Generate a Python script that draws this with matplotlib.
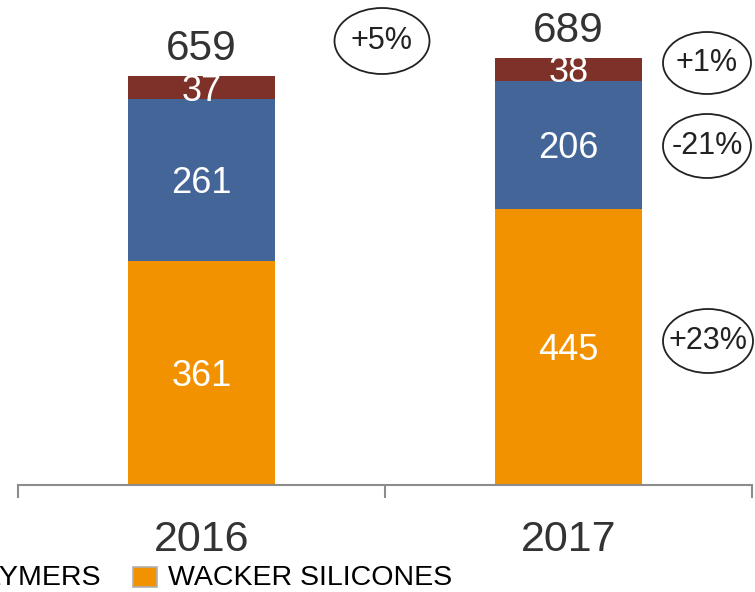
import matplotlib
matplotlib.use("Agg")
import matplotlib.pyplot as plt
from matplotlib.patches import Ellipse, Rectangle

plt.rcParams['font.family'] = ['Liberation Sans', 'DejaVu Sans']

years = ["2016", "2017"]
silicones = [361, 445]
polymers = [261, 206]
other = [37, 38]
totals = [659, 689]
changes = ["+5%", "+1%", "-21%", "+23%"]
legend_labels = ["WACKER POLYMERS", "WACKER SILICONES"]

c_orange = "#F39200"
c_blue = "#446598"
c_red = "#7D3129"
c_text = "#333333"

W, H = 755, 592
fig = plt.figure(figsize=(W / 100, H / 100), dpi=100)
ax = fig.add_axes([18 / W, 107 / H, (752 - 18) / W, 485 / H])
ax.set_xlim(-0.5, 1.5)
ax.set_ylim(0, 782)

x = list(range(len(years)))
bw = 0.4
ax.bar(x, silicones, bw, color=c_orange)
ax.bar(x, polymers, bw, bottom=silicones, color=c_blue)
bottom3 = [a + b for a, b in zip(silicones, polymers)]
ax.bar(x, other, bw, bottom=bottom3, color=c_red)

def inner(i, y, val):
    ax.annotate(str(val), (i, y), xytext=(0, -2.5), textcoords='offset points',
                ha='center', va='center', color='white', fontsize=26)

for i in x:
    inner(i, silicones[i] / 2, silicones[i])
    inner(i, silicones[i] + polymers[i] / 2, polymers[i])
    inner(i, bottom3[i] + other[i] / 2, other[i])
    top = bottom3[i] + other[i]
    ax.annotate(str(totals[i]), (i, top), xytext=(0, 19.5), textcoords='offset points',
                ha='center', va='center', color=c_text, fontsize=30.5)

for s in ['left', 'right', 'top']:
    ax.spines[s].set_visible(False)
ax.spines['bottom'].set_color('#8c8c8c')
ax.spines['bottom'].set_linewidth(1.5)
ax.set_yticks([])
ax.set_xticks([-0.5, 0.5, 1.5])
ax.set_xticklabels([])
ax.tick_params(axis='x', which='major', length=9, width=1.5, color='#8c8c8c', direction='out')
ax.set_xticks(x, minor=True)
ax.set_xticklabels(years, minor=True, fontsize=31, color=c_text)
ax.tick_params(axis='x', which='minor', length=0, pad=25)

# change ellipses (pixel positions)
ells = [(382, 41, 95, 66), (707, 63, 88, 62), (707, 146, 88, 64), (708, 341, 90, 64)]
for (cx, cy, ew, eh), lab in zip(ells, changes):
    e = Ellipse((cx / W, 1 - cy / H), ew / W, eh / H, transform=fig.transFigure,
                fill=False, ec='#222222', lw=1.3)
    fig.add_artist(e)
    fig.text(cx / W, 1 - cy / H, lab, ha='center', va='center', fontsize=22, color='#222222')

# legend (partially cut off at left, as in the reference)
fig.add_artist(Rectangle((133 / W, 1 - 587 / H), 24 / W, 20 / H, transform=fig.transFigure,
                         facecolor=c_orange, edgecolor='#b0b0b0', lw=1.2))
fig.text(100 / W, 1 - 578 / H, legend_labels[0], ha='right', va='center', fontsize=20.5, color='black')
fig.text(168 / W, 1 - 578 / H, legend_labels[1], ha='left', va='center', fontsize=20.5, color='black')

fig.savefig("out.png", dpi=100)
